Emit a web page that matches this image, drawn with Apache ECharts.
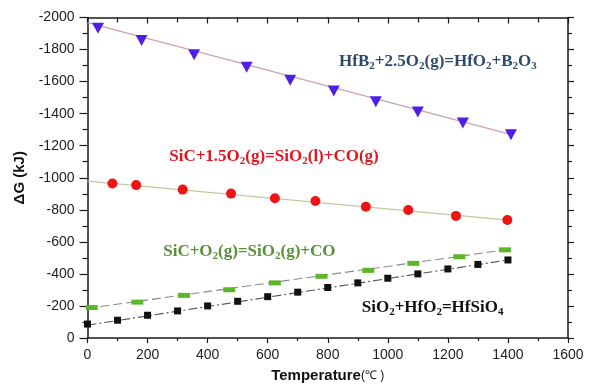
<!DOCTYPE html>
<html><head><meta charset="utf-8">
<script src="https://cdn.jsdelivr.net/npm/echarts@6/dist/echarts.min.js"></script>
<style>html,body{margin:0;padding:0;background:#fff}#c{width:593px;height:388px}</style>
</head><body><div id="c"></div>
<script>
// ---- data ----
const xTicks = [0, 200, 400, 600, 800, 1000, 1200, 1400, 1600];
const yTicks = [-2000, -1800, -1600, -1400, -1200, -1000, -800, -600, -400, -200, 0];

const hfb2T = [35, 180, 355, 530, 675, 820, 960, 1100, 1250, 1410];
const hfb2G = [-1933, -1857, -1768, -1690, -1609, -1541, -1474, -1411, -1342, -1268];
const hfb2FitT = [0, 1415];
const hfb2FitG = [-1968, -1268];

const sicLT = [83, 162, 317, 478, 624, 759, 927, 1068, 1227, 1398];
const sicLG = [-964, -954, -926, -901, -872, -855, -819, -799, -762, -736];
const sicLFitT = [0, 1400];
const sicLFitG = [-979, -736];

const sicGT = [14, 166, 321, 472, 624, 779, 935, 1085, 1238, 1390];
const sicGG = [-190, -224, -266, -301, -344, -385, -422, -466, -507, -550];
const sicGFitT = [0, 1400];
const sicGFitG = [-185, -552];

const hfsT = [0, 100, 200, 300, 400, 500, 600, 700, 800, 900, 1000, 1100, 1200, 1300, 1400];
const hfsG = [-87, -111, -142, -169, -200, -229, -258, -286, -315, -344, -373, -400, -431, -459, -487];
const hfsFitT = [0, 1400];
const hfsFitG = [-80, -487];

// annotations: [T, G, rich text]
const labelHfB2 = [1167, -1725, '{m|HfB}{s|2}{m|+2.5O}{s|2}{m|(g)=HfO}{s|2}{m|+B}{s|2}{m|O}{s|3}'];
const labelSicL = [621, -1131, '{m|SiC+1.5O}{s|2}{m|(g)=SiO}{s|2}{m|(l)+CO(g)}'];
const labelSicG = [539, -538, '{m|SiC+O}{s|2}{m|(g)=SiO}{s|2}{m|(g)+CO}'];
const labelHfs = [1149, -192, '{m|SiO}{s|2}{m|+HfO}{s|2}{m|=HfSiO}{s|4}'];

const zip = (a, b) => a.map((v, i) => [v, b[i]]);

function textSeries(lbl, color) {
  return {
    type: 'scatter', xAxisIndex: 0, yAxisIndex: 0, symbolSize: 0, silent: true, z: 10,
    itemStyle: { opacity: 1 },
    data: [[lbl[0], lbl[1]]],
    label: {
      show: true, position: 'inside', formatter: lbl[2], color: color, opacity: 1,
      textBorderWidth: 0, textBorderColor: 'transparent',
      rich: {
        m: { fontFamily: 'Liberation Serif', fontWeight: 'bold', fontSize: 17, lineHeight: 20, color: color, textBorderWidth: 0 },
        s: { fontFamily: 'Liberation Serif', fontWeight: 'bold', fontSize: 11, lineHeight: 12, verticalAlign: 'bottom', color: color, textBorderWidth: 0 }
      }
    }
  };
}

const axisCol = '#1a1a1a';
const plain = v => String(v);
const chart = echarts.init(document.getElementById('c'), null, { renderer: 'canvas' });
chart.setOption({
  animation: false,
  backgroundColor: '#fff',
  grid: { left: 87.5, right: 25, top: 17.5, bottom: 47 },
  xAxis: [{
    type: 'value', min: xTicks[0], max: xTicks[xTicks.length - 1], interval: 200,
    position: 'bottom',
    name: '{b|Temperature}{n|(℃ )}', nameLocation: 'middle', nameGap: 30,
    nameTextStyle: { rich: {
      b: { fontFamily: 'Liberation Sans', fontWeight: 'bold', fontSize: 15, color: '#111' },
      n: { fontFamily: 'Liberation Sans', fontSize: 12, color: '#111' } } },
    axisLine: { show: true, onZero: false, lineStyle: { color: axisCol, width: 1.5 } },
    axisTick: { show: true, inside: false, length: 5, lineStyle: { color: axisCol, width: 1.2 } },
    minorTick: { show: true, splitNumber: 2, length: 3, lineStyle: { color: axisCol, width: 1.2 } },
    axisLabel: { margin: 10, fontFamily: 'Liberation Sans', fontSize: 14, color: '#222', formatter: plain },
    splitLine: { show: false }
  }, {
    type: 'value', min: xTicks[0], max: xTicks[xTicks.length - 1], interval: 200,
    position: 'top',
    axisLine: { show: true, onZero: false, lineStyle: { color: axisCol, width: 1.5 } },
    axisTick: { show: true, inside: true, length: 6, lineStyle: { color: axisCol, width: 1.2 } },
    minorTick: { show: true, splitNumber: 2, length: 5, lineStyle: { color: axisCol, width: 1.2 } },
    axisLabel: { show: false }, splitLine: { show: false }
  }],
  yAxis: [{
    type: 'value', min: yTicks[0], max: yTicks[yTicks.length - 1], interval: 200, inverse: true,
    position: 'left',
    name: 'ΔG (kJ)', nameLocation: 'middle', nameGap: 60, nameRotate: 90,
    nameTextStyle: { fontFamily: 'Liberation Sans', fontWeight: 'bold', fontSize: 15, color: '#111' },
    axisLine: { show: true, onZero: false, lineStyle: { color: axisCol, width: 1.5 } },
    axisTick: { show: true, inside: false, length: 8, lineStyle: { color: axisCol, width: 1.2 } },
    minorTick: { show: true, splitNumber: 2, length: 5, lineStyle: { color: axisCol, width: 1.2 } },
    axisLabel: { margin: 13, fontFamily: 'Liberation Sans', fontSize: 14, color: '#222', formatter: plain },
    splitLine: { show: false }
  }, {
    type: 'value', min: yTicks[0], max: yTicks[yTicks.length - 1], interval: 200, inverse: true,
    position: 'right',
    axisLine: { show: true, onZero: false, lineStyle: { color: axisCol, width: 1.5 } },
    axisTick: { show: true, inside: false, length: 6, lineStyle: { color: axisCol, width: 1.2 } },
    minorTick: { show: true, splitNumber: 2, length: 4, lineStyle: { color: axisCol, width: 1.2 } },
    axisLabel: { show: false }, splitLine: { show: false }
  }],
  series: [
    { type: 'line', data: zip(hfb2FitT, hfb2FitG), symbol: 'none', lineStyle: { color: '#c9a3b3', width: 1.2 }, z: 1 },
    { type: 'line', data: zip(sicLFitT, sicLFitG), symbol: 'none', lineStyle: { color: '#c3c79b', width: 1.2 }, z: 1 },
    { type: 'line', data: zip(sicGFitT, sicGFitG), symbol: 'none', lineStyle: { color: '#8a8a8a', width: 1.1, type: [9, 4] }, z: 1 },
    { type: 'line', data: zip(hfsFitT, hfsFitG), symbol: 'none', lineStyle: { color: '#555', width: 1.1, type: [9, 3, 2, 3] }, z: 1 },
    { type: 'scatter', data: zip(hfb2T, hfb2G), symbol: 'triangle', symbolRotate: 180, symbolSize: [12, 11], itemStyle: { color: '#4f1fe6', opacity: 1 }, z: 3 },
    { type: 'scatter', data: zip(sicLT, sicLG), symbol: 'circle', symbolSize: 10, itemStyle: { color: '#f01414', opacity: 1 }, z: 3 },
    { type: 'scatter', data: zip(sicGT, sicGG), symbol: 'rect', symbolSize: [12, 5], itemStyle: { color: '#5db52a', opacity: 1 }, z: 3 },
    { type: 'scatter', data: zip(hfsT, hfsG), symbol: 'rect', symbolSize: 7, itemStyle: { color: '#111', opacity: 1 }, z: 3 },
    textSeries(labelHfB2, '#2e4a6b'),
    textSeries(labelSicL, '#e3141c'),
    textSeries(labelSicG, '#5b8f3a'),
    textSeries(labelHfs, '#111')
  ]
});
</script></body></html>
